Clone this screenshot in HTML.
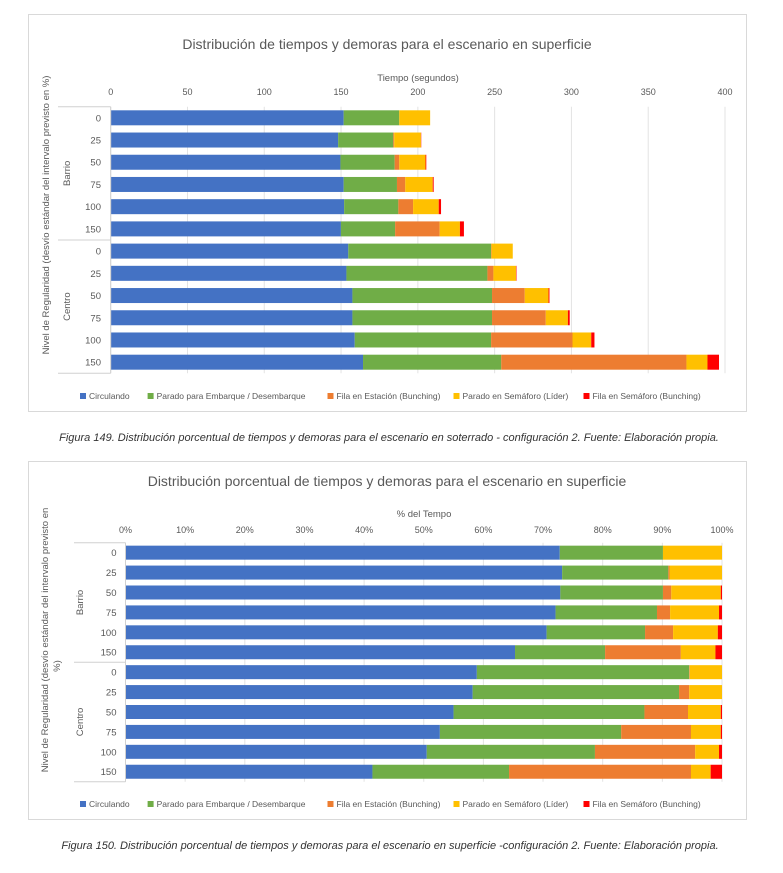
<!DOCTYPE html>
<html><head><meta charset="utf-8">
<style>
html,body{margin:0;padding:0;background:#fff;}
body{width:783px;height:873px;overflow:hidden;position:relative;font-family:"Liberation Sans",sans-serif;}
svg{position:absolute;left:0;top:0;}
text{font-family:"Liberation Sans",sans-serif;}
</style></head>
<body>
<svg id="svg" width="783" height="873" viewBox="0 0 783 873">
  <rect x="28.5" y="14.5" width="718" height="397" fill="#fff" stroke="#d9d9d9"/>
  <rect x="28.5" y="461.5" width="718" height="358" fill="#fff" stroke="#d9d9d9"/>
  <text x="387" y="49" text-anchor="middle" font-size="14" fill="#595959">Distribución de tiempos y demoras para el escenario en superficie</text>
  <text x="418" y="81" text-anchor="middle" font-size="9.5" fill="#595959">Tiempo (segundos)</text>
  <text x="387" y="486" text-anchor="middle" font-size="14" fill="#595959">Distribución porcentual de tiempos y demoras para el escenario en superficie</text>
  <text x="424" y="517" text-anchor="middle" font-size="9.5" fill="#595959">% del Tempo</text>
  <text transform="translate(49,215) rotate(-90)" text-anchor="middle" font-size="9.5" fill="#595959">Nivel de Regularidad  (desvío estándar del intervalo previsto en %)</text>
  <text transform="translate(48,640) rotate(-90)" text-anchor="middle" font-size="9.5" fill="#595959">Nivel de Regularidad  (desvío estándar del intervalo previsto en</text>
  <text transform="translate(60,666) rotate(-90)" text-anchor="middle" font-size="9.5" fill="#595959">%)</text>
  <text x="389" y="441" text-anchor="middle" font-size="11" font-style="italic" fill="#333">Figura 149. Distribución porcentual de tiempos y demoras para el escenario en soterrado - configuración 2. Fuente: Elaboración propia.</text>
  <text x="390" y="849" text-anchor="middle" font-size="11" font-style="italic" fill="#333">Figura 150. Distribución porcentual de tiempos y demoras para el escenario en superficie -configuración 2. Fuente: Elaboración propia.</text>
  <g id="c1"></g>
  <g id="c2"></g>
</svg>
<script>
const rowLabels = ["0","25","50","75","100","150","0","25","50","75","100","150"];
const groupLabels = ["Barrio","Centro"];
const seriesNames = ["Circulando","Parado para Embarque / Desembarque","Fila en Estación (Bunching)","Parado en Semáforo (Líder)","Fila en Semáforo (Bunching)"];
const seriesColors = ["#4472c4","#70ad47","#ed7d31","#ffc000","#ff0000"];
// Chart 1 (seconds)
const t1Circulando = [151.7,148.1,149.6,151.7,152.0,149.9,154.7,153.5,157.4,157.4,158.9,164.3];
const t1Parado     = [36.2,35.9,35.3,34.7,35.3,35.3,93.0,91.8,90.9,90.9,88.8,90.0];
const t1FilaEst    = [0,0.6,3.0,5.4,9.6,29.0,0.3,3.9,21.3,35.0,53.0,120.6];
const t1Semaforo   = [20.1,17.4,17.1,17.9,16.7,13.2,13.8,14.7,15.5,14.4,12.2,13.7];
const t1FilaSem    = [0,0.2,0.5,0.6,1.5,2.6,0,0.3,0.6,1.2,2.1,7.5];
const t1Ticks = [0,50,100,150,200,250,300,350,400];
const t1TickLabels = ["0","50","100","150","200","250","300","350","400"];
// Chart 2 (percent)
const p2Circulando = [72.8,73.2,72.9,72.1,70.6,65.3,58.9,58.2,55.0,52.7,50.5,41.4];
const p2Parado     = [17.3,17.8,17.2,17.0,16.5,15.1,35.6,34.6,32.0,30.4,28.2,22.9];
const p2FilaEst    = [0,0.2,1.4,2.2,4.7,12.7,0.1,1.7,7.3,11.7,16.8,30.5];
const p2Semaforo   = [9.9,8.8,8.3,8.2,7.5,5.8,5.4,5.5,5.5,5.0,4.0,3.3];
const p2FilaSem    = [0,0,0.2,0.5,0.7,1.1,0,0,0.2,0.2,0.5,1.9];
const p2Ticks = [0,10,20,30,40,50,60,70,80,90,100];
const p2TickLabels = ["0%","10%","20%","30%","40%","50%","60%","70%","80%","90%","100%"];

const NS="http://www.w3.org/2000/svg";
function mk(parent,tag,attrs){const e=document.createElementNS(NS,tag);for(const k in attrs)e.setAttribute(k,attrs[k]);parent.appendChild(e);return e;}

function drawChart(g,cfg,series,ticks,tickLabels){
  const xs=v=>cfg.x0+(v-cfg.min)/(cfg.max-cfg.min)*(cfg.x1-cfg.x0);
  const n=rowLabels.length;
  const pitch=(cfg.yb-cfg.yt)/n;
  const ys=i=>cfg.yt+i*pitch;
  ticks.forEach((t,i)=>{
    const l=mk(g,'line',{x1:xs(t),x2:xs(t),y1:cfg.yt,y2:cfg.yb,stroke:'#e3e3e3','stroke-width':1});
    
    
    const tx=mk(g,'text',{x:xs(t),y:cfg.tickY,'text-anchor':'middle','font-size':9,fill:'#595959'});
    tx.textContent=tickLabels[i];
    
    
  });
  for(let i=0;i<n;i++){
    let acc=0;
    const y=ys(i)+(pitch-cfg.bh)/2;
    series.forEach((s,k)=>{
      const v=s[i];
      if(v>0){
        const r=mk(g,'rect',{x:xs(acc),y:y,width:Math.max(0,xs(acc+v)-xs(acc)),height:cfg.bh,fill:seriesColors[k]});
        
        
      }
      acc+=v;
    });
    const lb=mk(g,'text',{x:cfg.labX,y:ys(i)+pitch/2+3.5,'text-anchor':'end','font-size':9.5,fill:'#595959'});
    lb.textContent=rowLabels[i];
    
    
  }
  [0,6,12].forEach(i=>{
    const l=mk(g,'line',{x1:cfg.sepX,x2:cfg.x0,y1:ys(i),y2:ys(i),stroke:'#d0d0d0','stroke-width':1});
    
    
  });
  const ax=mk(g,'line',{x1:cfg.x0,x2:cfg.x0,y1:cfg.yt,y2:cfg.yb,stroke:'#d0d0d0','stroke-width':1});
  
  
  groupLabels.forEach((gl,j)=>{
    const cy=ys(j*6)+pitch*3;
    const t=mk(g,'text',{transform:`translate(${cfg.grpX},${cy}) rotate(-90)`,'text-anchor':'middle','font-size':9.5,fill:'#595959'});
    t.textContent=gl;
    
    
  });
  const lx=[80,147.6,327.5,453.5,583.5];
  seriesNames.forEach((nm,k)=>{
    const r=mk(g,'rect',{x:lx[k],y:cfg.legY-6,width:6,height:6,fill:seriesColors[k]});
    
    
    const t=mk(g,'text',{x:lx[k]+9,y:cfg.legY,'font-size':8.5,fill:'#595959'});
    t.textContent=nm;
    
    
  });
}
drawChart(document.getElementById('c1'),
  {x0:110.7,x1:725,min:0,max:400,yt:106.7,yb:373.3,bh:15,tickY:95,labX:101,sepX:58,grpX:70,legY:399},
  [t1Circulando,t1Parado,t1FilaEst,t1Semaforo,t1FilaSem],t1Ticks,t1TickLabels);
drawChart(document.getElementById('c2'),
  {x0:125.5,x1:722,min:0,max:100,yt:542.7,yb:781.7,bh:14,tickY:533,labX:116.5,sepX:74,grpX:83,legY:807},
  [p2Circulando,p2Parado,p2FilaEst,p2Semaforo,p2FilaSem],p2Ticks,p2TickLabels);
</script>
</body></html>
